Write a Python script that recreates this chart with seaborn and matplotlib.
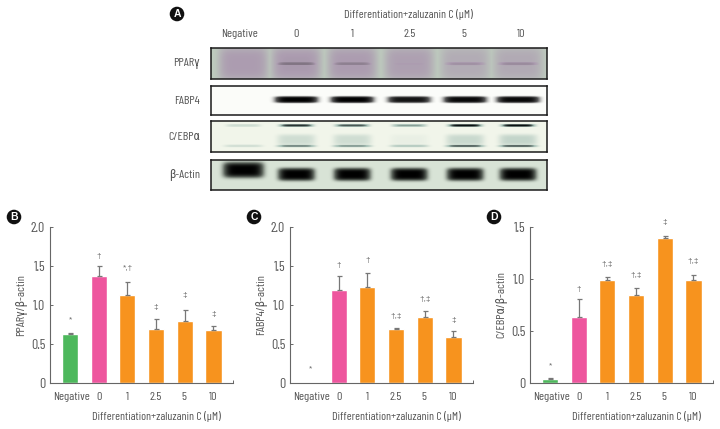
import numpy as np
import pandas as pd
import matplotlib
matplotlib.use("Agg")
import matplotlib.pyplot as plt
from matplotlib.colors import LinearSegmentedColormap
import seaborn as sns

sns.set_style("white")
plt.rcParams['font.family'] = ['Barlow Condensed', 'Roboto Condensed', 'Liberation Sans Narrow', 'Liberation Sans', 'DejaVu Sans']

W, H = 720, 429

# --- datos de las barras ---
doses = ['Negative', '0', '1', '2.5', '5', '10']
ppar_vals = [0.63, 1.38, 1.13, 0.70, 0.80, 0.68]
ppar_tops = [0.64, 1.50, 1.30, 0.82, 0.94, 0.73]
ppar_marks = ['*', '†', '*,†', '‡', '‡', '‡']
ppar_mark_y = [0.81, 1.62, 1.47, 0.97, 1.13, 0.88]

fabp_vals = [0, 1.20, 1.24, 0.70, 0.85, 0.60]
fabp_tops = [0, 1.37, 1.42, 0.71, 0.93, 0.67]
fabp_marks = ['*', '†', '†', '†,‡', '†,‡', '‡']
fabp_mark_y = [0.18, 1.51, 1.58, 0.86, 1.07, 0.81]

cebp_vals = [0.04, 0.64, 0.99, 0.85, 1.40, 0.99]
cebp_tops = [0.05, 0.81, 1.02, 0.92, 1.42, 1.04]
cebp_marks = ['*', '†', '†,‡', '†,‡', '‡', '†,‡']
cebp_mark_y = [0.17, 0.90, 1.14, 1.035, 1.545, 1.17]

bar_colors = ['#4DB85C', '#EE569E', '#F7931E', '#F7931E', '#F7931E', '#F7931E']
xlabel_text = 'Differentiation+zaluzanin C (μM)'
text_color = '#555555'

# --- bandas del western blot: (y relativa, alto, semiancho, intensidad por carril) ---
lanes = ['Negative', '0', '1', '2.5', '5', '10']
lane_px = [243, 296, 352, 409, 465, 518]
ppar_bands = [(0.50, 1.20, 25, [0.50, 0.52, 0.50, 0.46, 0.34, 0.36]),
              (0.50, 0.14, 22, [0.00, 0.78, 0.70, 0.50, 0.58, 0.62])]
fabp_bands = [(0.46, 0.22, 21, [0.00, 1.00, 1.00, 0.88, 0.95, 0.95])]
cebp_bands = [(0.13, 0.09, 17, [0.25, 0.90, 0.80, 0.60, 1.00, 1.00]),
              (0.60, 0.36, 19, [0.00, 0.24, 0.24, 0.06, 0.28, 0.32]),
              (0.80, 0.09, 19, [0.22, 0.65, 0.60, 0.40, 0.75, 0.75])]
actin_bands = [(0.32, 0.52, 20, [1.00, 0.00, 0.00, 0.00, 0.00, 0.00]),
               (0.47, 0.42, 18, [0.00, 1.00, 1.00, 1.00, 1.00, 1.00])]
blot_names = ['PPARγ', 'FABP4', 'C/EBPα', 'β-Actin']
blot_bands = [ppar_bands, fabp_bands, cebp_bands, actin_bands]
blot_boxes = [(48, 79), (86, 115), (121, 152), (160, 190)]
blot_ramps = [['#BECCBE', '#AC9CB0', '#5F5660'],
              ['#FBFCF9', '#555555', '#000000'],
              ['#F1F5EA', '#A9C2B8', '#0A0F10'],
              ['#D8E3D6', '#5A625A', '#000000']]
blot_left, blot_right = 211, 547


def axes_px(left, top, right, bottom):
    return fig.add_axes([left / W, 1 - bottom / H, (right - left) / W, (bottom - top) / H])


def put_text(x, y, s, size=8.0, ha='center', **kw):
    fig.text(x / W, 1 - y / H, s, fontsize=size, ha=ha, va='center', color=text_color, **kw)


def panel_letter(x, y, s):
    fig.text(x / W, 1 - y / H, s, fontsize=7.5, fontweight='bold', family='Liberation Sans',
             color='white', ha='center', va='center',
             bbox=dict(boxstyle='circle,pad=0.22', fc='#111111', ec='none'))


def draw_blot(box, bands, ramp):
    top, bottom = box
    ax = axes_px(blot_left, top, blot_right, bottom)
    nx, ny = (blot_right - blot_left) * 2, (bottom - top) * 2
    xs = np.linspace(blot_left, blot_right, nx)
    ys = np.linspace(0, 1, ny)
    img = np.zeros((ny, nx))
    for y0, h, half, levels in bands:
        for cx, lvl in zip(lane_px, levels):
            across = np.exp(-((xs - cx) / half) ** 6)
            down = np.exp(-((ys - y0) / (h / 2)) ** 4)
            img = np.maximum(img, lvl * np.outer(down, across))
    cmap = LinearSegmentedColormap.from_list('blot', ramp)
    sns.heatmap(img, ax=ax, cmap=cmap, vmin=0, vmax=1, cbar=False, xticklabels=False,
                yticklabels=False, rasterized=True)
    for sp in ax.spines.values():
        sp.set_visible(True)
        sp.set_color('#1a1a1a')
        sp.set_linewidth(1.1)


def draw_bars(left, vals, tops, marks, mark_y, ymax, yticks, ylabel, letter):
    ax = axes_px(left, 227.3, left + 183, 383.3)
    df = pd.DataFrame({'dose': doses, 'value': vals})
    sns.barplot(data=df, x='dose', y='value', hue='dose', palette=bar_colors, order=doses,
                width=0.56, legend=False, errorbar=None, ax=ax, saturation=1)
    pos = np.arange(len(doses))
    up = np.array(tops) - np.array(vals)
    keep = up > 0
    ax.errorbar(pos[keep], np.array(vals)[keep], yerr=[np.zeros(keep.sum()), up[keep]], fmt='none',
                ecolor='#777777', elinewidth=0.9, capsize=1.8, capthick=0.9)
    for p, m, y in zip(pos, marks, mark_y):
        ax.text(p, y, m, ha='center', va='center', fontsize=6, color='#666666', family='Liberation Sans')
    ax.set_xlim(-0.70, 5.68)
    ax.set_ylim(0, ymax)
    ax.set_yticks(yticks)
    ax.set_yticklabels([('0' if t == 0 else f'{t:.1f}') for t in yticks], fontsize=10, color=text_color)
    ax.set_xticks([5.68])
    ax.set_xticklabels([''])
    ax.set_xlabel('')
    ax.set_ylabel('')
    ax.tick_params(axis='both', direction='in', length=2.5, width=0.7, color='#666666',
                   left=True, bottom=True, pad=3.5)
    sns.despine(ax=ax)
    ax.spines['left'].set_color('#666666')
    ax.spines['bottom'].set_color('#666666')
    ax.spines['left'].set_linewidth(0.8)
    ax.spines['bottom'].set_linewidth(0.8)
    ax.patch.set_alpha(0)
    # etiquetas en pixeles
    for xp, d in zip([72, 99, 127, 156, 184, 213], doses):
        put_text(left - 50 + xp, 397, d, size=8.8)
    put_text(left - 50 + 156, 417, xlabel_text, size=8.5)
    put_text(left - 29, 305, ylabel, size=8.8, rotation=90)
    panel_letter(left - 36, 217, letter)


fig = plt.figure(figsize=(W / 100, H / 100), dpi=100, facecolor='white')

for box, bands, ramp, name in zip(blot_boxes, blot_bands, blot_ramps, blot_names):
    draw_blot(box, bands, ramp)
    put_text(200, (box[0] + box[1]) / 2, name, size=8.8, ha='right')

for x, s in zip([239, 296, 352, 410, 464, 521], lanes):
    put_text(x, 34, s, size=8.8)
put_text(408, 15, xlabel_text, size=8.5)
panel_letter(177, 14, 'A')

draw_bars(50, ppar_vals, ppar_tops, ppar_marks, ppar_mark_y, 2.0, [0, 0.5, 1.0, 1.5, 2.0], 'PPARγ/β-actin', 'B')
draw_bars(290, fabp_vals, fabp_tops, fabp_marks, fabp_mark_y, 2.0, [0, 0.5, 1.0, 1.5, 2.0], 'FABP4/β-actin', 'C')
draw_bars(530, cebp_vals, cebp_tops, cebp_marks, cebp_mark_y, 1.5, [0, 0.5, 1.0, 1.5], 'C/EBPα/β-actin', 'D')

fig.savefig('out.png', dpi=100)
